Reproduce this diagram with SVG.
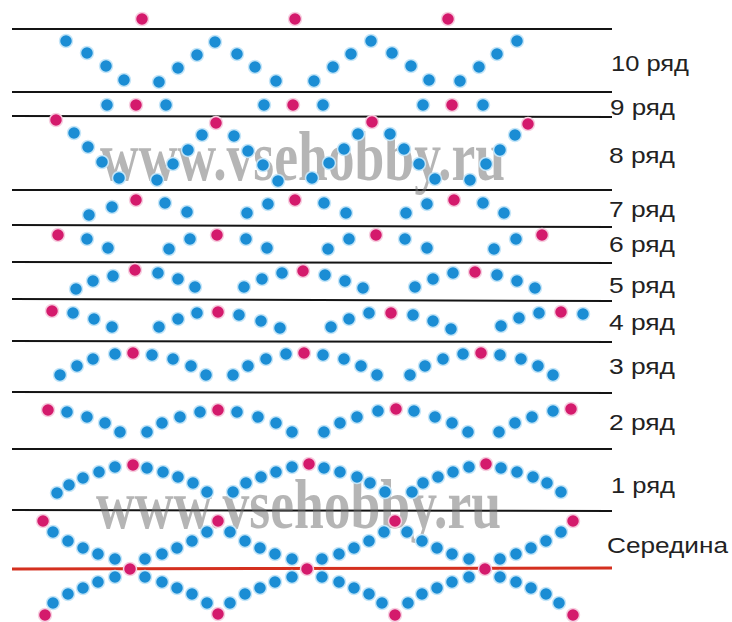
<svg xmlns="http://www.w3.org/2000/svg" width="732" height="622" viewBox="0 0 732 622">
<style>
.ln{stroke:#141414;stroke-width:2;fill:none}
.red{stroke:#d4301f;stroke-width:3;fill:none}
.b{fill:#1b8dd4;stroke:#c6e6f8;stroke-width:1.5}
.m{fill:#d41a6c;stroke:#f6cfe0;stroke-width:1.5}
.lab{font-family:"Liberation Sans",Arial,sans-serif;font-size:22px;fill:#222}
.wm{font-family:"Liberation Serif","Times New Roman",serif;font-size:40px;font-weight:bold;fill:#6e6e6e;opacity:0.5}
</style>
<rect width="732" height="622" fill="#fff"/>
<g id="lines">
<line class="ln" x1="12" y1="29" x2="612" y2="29"/>
<line class="ln" x1="12" y1="92" x2="612" y2="92"/>
<line class="ln" x1="12" y1="116" x2="612" y2="117"/>
<line class="ln" x1="12" y1="190" x2="612" y2="190"/>
<line class="ln" x1="12" y1="225" x2="612" y2="227"/>
<line class="ln" x1="12" y1="262" x2="612" y2="263"/>
<line class="ln" x1="12" y1="299" x2="612" y2="301"/>
<line class="ln" x1="12" y1="341" x2="612" y2="342"/>
<line class="ln" x1="12" y1="392" x2="612" y2="393"/>
<line class="ln" x1="12" y1="449" x2="612" y2="449"/>
<line class="ln" x1="12" y1="510" x2="612" y2="511"/>
<line class="red" x1="12" y1="569" x2="612" y2="568"/>
</g>
<g id="watermark">
<text class="wm" transform="translate(100,180) scale(1,1.75)" textLength="405" lengthAdjust="spacingAndGlyphs">www.vsehobby.ru</text>
<text class="wm" transform="translate(96,528) scale(1,1.75)" textLength="405" lengthAdjust="spacingAndGlyphs">www.vsehobby.ru</text>
</g>
<g id="row-top">
<circle class="m" cx="142" cy="19" r="6.5"/><circle class="m" cx="295" cy="19" r="6.5"/><circle class="m" cx="448" cy="19" r="6.5"/>
</g>
<g id="row10">
<circle class="b" cx="66" cy="41" r="6.5"/><circle class="b" cx="87" cy="53" r="6.5"/><circle class="b" cx="106" cy="66" r="6.5"/><circle class="b" cx="124" cy="80" r="6.5"/>
<circle class="b" cx="159" cy="82" r="6.5"/><circle class="b" cx="178" cy="68" r="6.5"/><circle class="b" cx="197" cy="55" r="6.5"/><circle class="b" cx="215" cy="42" r="6.5"/>
<circle class="b" cx="237" cy="54" r="6.5"/><circle class="b" cx="255" cy="67" r="6.5"/><circle class="b" cx="276" cy="81" r="6.5"/>
<circle class="b" cx="314" cy="81" r="6.5"/><circle class="b" cx="333" cy="67" r="6.5"/><circle class="b" cx="351" cy="54" r="6.5"/><circle class="b" cx="371" cy="41" r="6.5"/>
<circle class="b" cx="392" cy="53" r="6.5"/><circle class="b" cx="411" cy="66" r="6.5"/><circle class="b" cx="429" cy="80" r="6.5"/>
<circle class="b" cx="460" cy="81" r="6.5"/><circle class="b" cx="479" cy="67" r="6.5"/><circle class="b" cx="497" cy="54" r="6.5"/><circle class="b" cx="517" cy="41" r="6.5"/>
</g>
<g id="row9">
<circle class="b" cx="107" cy="105" r="6.5"/><circle class="m" cx="136" cy="105" r="6.5"/><circle class="b" cx="166" cy="105" r="6.5"/>
<circle class="b" cx="264" cy="105" r="6.5"/><circle class="m" cx="293" cy="105" r="6.5"/><circle class="b" cx="323" cy="105" r="6.5"/>
<circle class="b" cx="423" cy="105" r="6.5"/><circle class="m" cx="452" cy="105" r="6.5"/><circle class="b" cx="483" cy="105" r="6.5"/>
</g>
<g id="row8">
<circle class="m" cx="56" cy="120" r="6.5"/><circle class="b" cx="74" cy="133" r="6.5"/><circle class="b" cx="88" cy="147" r="6.5"/><circle class="b" cx="102" cy="162" r="6.5"/><circle class="b" cx="119" cy="178" r="6.5"/>
<circle class="b" cx="157" cy="180" r="6.5"/><circle class="b" cx="173" cy="164" r="6.5"/><circle class="b" cx="188" cy="150" r="6.5"/><circle class="b" cx="202" cy="135" r="6.5"/><circle class="m" cx="216" cy="123" r="6.5"/>
<circle class="b" cx="234" cy="136" r="6.5"/><circle class="b" cx="248" cy="151" r="6.5"/><circle class="b" cx="263" cy="165" r="6.5"/><circle class="b" cx="278" cy="181" r="6.5"/>
<circle class="b" cx="312" cy="178" r="6.5"/><circle class="b" cx="329" cy="163" r="6.5"/><circle class="b" cx="344" cy="149" r="6.5"/><circle class="b" cx="358" cy="134" r="6.5"/><circle class="m" cx="372" cy="122" r="6.5"/>
<circle class="b" cx="390" cy="134" r="6.5"/><circle class="b" cx="404" cy="149" r="6.5"/><circle class="b" cx="419" cy="164" r="6.5"/><circle class="b" cx="435" cy="179" r="6.5"/>
<circle class="b" cx="470" cy="180" r="6.5"/><circle class="b" cx="486" cy="164" r="6.5"/><circle class="b" cx="500" cy="150" r="6.5"/><circle class="b" cx="515" cy="135" r="6.5"/><circle class="m" cx="528" cy="124" r="6.5"/>
</g>
<g id="row7">
<circle class="b" cx="89" cy="215" r="6.5"/><circle class="b" cx="112" cy="207" r="6.5"/><circle class="m" cx="136" cy="200" r="6.5"/><circle class="b" cx="165" cy="203" r="6.5"/><circle class="b" cx="187" cy="212" r="6.5"/>
<circle class="b" cx="247" cy="213" r="6.5"/><circle class="b" cx="268" cy="204" r="6.5"/><circle class="m" cx="295" cy="200" r="6.5"/><circle class="b" cx="324" cy="203" r="6.5"/><circle class="b" cx="346" cy="213" r="6.5"/>
<circle class="b" cx="406" cy="213" r="6.5"/><circle class="b" cx="427" cy="204" r="6.5"/><circle class="m" cx="454" cy="200" r="6.5"/><circle class="b" cx="483" cy="203" r="6.5"/><circle class="b" cx="504" cy="213" r="6.5"/>
</g>
<g id="row6">
<circle class="m" cx="58" cy="235" r="6.5"/><circle class="b" cx="87" cy="239" r="6.5"/><circle class="b" cx="108" cy="248" r="6.5"/>
<circle class="b" cx="169" cy="249" r="6.5"/><circle class="b" cx="190" cy="239" r="6.5"/><circle class="m" cx="217" cy="235" r="6.5"/><circle class="b" cx="246" cy="239" r="6.5"/><circle class="b" cx="267" cy="248" r="6.5"/>
<circle class="b" cx="328" cy="249" r="6.5"/><circle class="b" cx="349" cy="239" r="6.5"/><circle class="m" cx="376" cy="235" r="6.5"/><circle class="b" cx="405" cy="239" r="6.5"/><circle class="b" cx="427" cy="248" r="6.5"/>
<circle class="b" cx="494" cy="249" r="6.5"/><circle class="b" cx="516" cy="239" r="6.5"/><circle class="m" cx="542" cy="235" r="6.5"/>
</g>
<g id="row5">
<circle class="b" cx="76" cy="289" r="6.5"/><circle class="b" cx="93" cy="281" r="6.5"/><circle class="b" cx="113" cy="276" r="6.5"/><circle class="m" cx="135" cy="270" r="6.5"/><circle class="b" cx="158" cy="273" r="6.5"/><circle class="b" cx="178" cy="279" r="6.5"/><circle class="b" cx="195" cy="287" r="6.5"/>
<circle class="b" cx="244" cy="287" r="6.5"/><circle class="b" cx="262" cy="279" r="6.5"/><circle class="b" cx="282" cy="273" r="6.5"/><circle class="m" cx="303" cy="271" r="6.5"/><circle class="b" cx="325" cy="275" r="6.5"/><circle class="b" cx="345" cy="281" r="6.5"/><circle class="b" cx="363" cy="288" r="6.5"/>
<circle class="b" cx="415" cy="287" r="6.5"/><circle class="b" cx="433" cy="279" r="6.5"/><circle class="b" cx="453" cy="273" r="6.5"/><circle class="m" cx="475" cy="272" r="6.5"/><circle class="b" cx="497" cy="275" r="6.5"/><circle class="b" cx="517" cy="281" r="6.5"/><circle class="b" cx="535" cy="288" r="6.5"/>
</g>
<g id="row4">
<circle class="m" cx="52" cy="311" r="6.5"/><circle class="b" cx="73" cy="313" r="6.5"/><circle class="b" cx="94" cy="319" r="6.5"/><circle class="b" cx="112" cy="327" r="6.5"/>
<circle class="b" cx="159" cy="327" r="6.5"/><circle class="b" cx="178" cy="319" r="6.5"/><circle class="b" cx="197" cy="313" r="6.5"/><circle class="m" cx="218" cy="312" r="6.5"/><circle class="b" cx="239" cy="315" r="6.5"/><circle class="b" cx="261" cy="321" r="6.5"/><circle class="b" cx="280" cy="328" r="6.5"/>
<circle class="b" cx="331" cy="327" r="6.5"/><circle class="b" cx="349" cy="319" r="6.5"/><circle class="b" cx="369" cy="313" r="6.5"/><circle class="m" cx="391" cy="313" r="6.5"/><circle class="b" cx="413" cy="315" r="6.5"/><circle class="b" cx="433" cy="321" r="6.5"/><circle class="b" cx="451" cy="329" r="6.5"/>
<circle class="b" cx="501" cy="326" r="6.5"/><circle class="b" cx="519" cy="318" r="6.5"/><circle class="b" cx="539" cy="313" r="6.5"/><circle class="m" cx="561" cy="312" r="6.5"/><circle class="b" cx="583" cy="314" r="6.5"/>
</g>
<g id="row3">
<circle class="b" cx="60" cy="375" r="6.5"/><circle class="b" cx="77" cy="366" r="6.5"/><circle class="b" cx="93" cy="359" r="6.5"/><circle class="b" cx="115" cy="354" r="6.5"/><circle class="m" cx="133" cy="353" r="6.5"/><circle class="b" cx="152" cy="355" r="6.5"/><circle class="b" cx="173" cy="359" r="6.5"/><circle class="b" cx="191" cy="366" r="6.5"/><circle class="b" cx="206" cy="375" r="6.5"/>
<circle class="b" cx="233" cy="375" r="6.5"/><circle class="b" cx="248" cy="366" r="6.5"/><circle class="b" cx="266" cy="359" r="6.5"/><circle class="b" cx="286" cy="354" r="6.5"/><circle class="m" cx="304" cy="353" r="6.5"/><circle class="b" cx="323" cy="355" r="6.5"/><circle class="b" cx="344" cy="359" r="6.5"/><circle class="b" cx="361" cy="366" r="6.5"/><circle class="b" cx="377" cy="375" r="6.5"/>
<circle class="b" cx="410" cy="375" r="6.5"/><circle class="b" cx="425" cy="366" r="6.5"/><circle class="b" cx="443" cy="359" r="6.5"/><circle class="b" cx="463" cy="354" r="6.5"/><circle class="m" cx="481" cy="353" r="6.5"/><circle class="b" cx="500" cy="355" r="6.5"/><circle class="b" cx="521" cy="359" r="6.5"/><circle class="b" cx="538" cy="366" r="6.5"/><circle class="b" cx="553" cy="375" r="6.5"/>
</g>
<g id="row2">
<circle class="m" cx="48" cy="410" r="6.5"/><circle class="b" cx="67" cy="412" r="6.5"/><circle class="b" cx="87" cy="417" r="6.5"/><circle class="b" cx="105" cy="423" r="6.5"/><circle class="b" cx="120" cy="432" r="6.5"/>
<circle class="b" cx="147" cy="432" r="6.5"/><circle class="b" cx="162" cy="423" r="6.5"/><circle class="b" cx="180" cy="417" r="6.5"/><circle class="b" cx="200" cy="412" r="6.5"/><circle class="m" cx="218" cy="410" r="6.5"/><circle class="b" cx="237" cy="412" r="6.5"/><circle class="b" cx="258" cy="417" r="6.5"/><circle class="b" cx="276" cy="423" r="6.5"/><circle class="b" cx="292" cy="432" r="6.5"/>
<circle class="b" cx="324" cy="432" r="6.5"/><circle class="b" cx="340" cy="423" r="6.5"/><circle class="b" cx="357" cy="417" r="6.5"/><circle class="b" cx="378" cy="411" r="6.5"/><circle class="m" cx="396" cy="409" r="6.5"/><circle class="b" cx="414" cy="411" r="6.5"/><circle class="b" cx="435" cy="417" r="6.5"/><circle class="b" cx="452" cy="423" r="6.5"/><circle class="b" cx="468" cy="432" r="6.5"/>
<circle class="b" cx="499" cy="432" r="6.5"/><circle class="b" cx="515" cy="423" r="6.5"/><circle class="b" cx="532" cy="417" r="6.5"/><circle class="b" cx="553" cy="411" r="6.5"/><circle class="m" cx="571" cy="409" r="6.5"/>
</g>
<g id="row1">
<circle class="b" cx="57" cy="493" r="6.5"/><circle class="b" cx="69" cy="485" r="6.5"/><circle class="b" cx="83" cy="478" r="6.5"/><circle class="b" cx="99" cy="472" r="6.5"/><circle class="b" cx="115" cy="467" r="6.5"/><circle class="m" cx="133" cy="465" r="6.5"/><circle class="b" cx="147" cy="468" r="6.5"/><circle class="b" cx="163" cy="472" r="6.5"/><circle class="b" cx="178" cy="477" r="6.5"/><circle class="b" cx="193" cy="483" r="6.5"/><circle class="b" cx="207" cy="492" r="6.5"/>
<circle class="b" cx="233" cy="492" r="6.5"/><circle class="b" cx="246" cy="483" r="6.5"/><circle class="b" cx="261" cy="477" r="6.5"/><circle class="b" cx="276" cy="472" r="6.5"/><circle class="b" cx="292" cy="467" r="6.5"/><circle class="m" cx="309" cy="464" r="6.5"/><circle class="b" cx="324" cy="468" r="6.5"/><circle class="b" cx="340" cy="472" r="6.5"/><circle class="b" cx="357" cy="477" r="6.5"/><circle class="b" cx="370" cy="483" r="6.5"/><circle class="b" cx="385" cy="492" r="6.5"/>
<circle class="b" cx="412" cy="492" r="6.5"/><circle class="b" cx="423" cy="483" r="6.5"/><circle class="b" cx="438" cy="477" r="6.5"/><circle class="b" cx="453" cy="472" r="6.5"/><circle class="b" cx="469" cy="467" r="6.5"/><circle class="m" cx="486" cy="464" r="6.5"/><circle class="b" cx="501" cy="468" r="6.5"/><circle class="b" cx="517" cy="472" r="6.5"/><circle class="b" cx="533" cy="477" r="6.5"/><circle class="b" cx="547" cy="483" r="6.5"/><circle class="b" cx="561" cy="492" r="6.5"/>
</g>
<g id="middle">
<circle class="m" cx="43" cy="521" r="6.5"/><circle class="m" cx="218" cy="521" r="6.5"/><circle class="m" cx="395" cy="521" r="6.5"/><circle class="m" cx="573" cy="521" r="6.5"/>
<circle class="b" cx="53" cy="532" r="6.5"/><circle class="b" cx="68" cy="541" r="6.5"/><circle class="b" cx="83" cy="548" r="6.5"/><circle class="b" cx="98" cy="554" r="6.5"/><circle class="b" cx="115" cy="559" r="6.5"/>
<circle class="b" cx="145" cy="559" r="6.5"/><circle class="b" cx="162" cy="554" r="6.5"/><circle class="b" cx="177" cy="548" r="6.5"/><circle class="b" cx="192" cy="541" r="6.5"/><circle class="b" cx="207" cy="532" r="6.5"/>
<circle class="b" cx="230" cy="532" r="6.5"/><circle class="b" cx="245" cy="541" r="6.5"/><circle class="b" cx="260" cy="548" r="6.5"/><circle class="b" cx="275" cy="554" r="6.5"/><circle class="b" cx="292" cy="559" r="6.5"/>
<circle class="b" cx="322" cy="559" r="6.5"/><circle class="b" cx="339" cy="554" r="6.5"/><circle class="b" cx="354" cy="548" r="6.5"/><circle class="b" cx="369" cy="541" r="6.5"/><circle class="b" cx="384" cy="532" r="6.5"/>
<circle class="b" cx="407" cy="532" r="6.5"/><circle class="b" cx="422" cy="541" r="6.5"/><circle class="b" cx="437" cy="548" r="6.5"/><circle class="b" cx="452" cy="554" r="6.5"/><circle class="b" cx="469" cy="559" r="6.5"/>
<circle class="b" cx="500" cy="559" r="6.5"/><circle class="b" cx="516" cy="554" r="6.5"/><circle class="b" cx="531" cy="548" r="6.5"/><circle class="b" cx="546" cy="541" r="6.5"/><circle class="b" cx="561" cy="532" r="6.5"/>
<circle class="m" cx="130" cy="569" r="6.5"/><circle class="m" cx="307" cy="569" r="6.5"/><circle class="m" cx="485" cy="569" r="6.5"/>
</g>
<g id="below">
<circle class="b" cx="53" cy="603" r="6.5"/><circle class="b" cx="68" cy="594" r="6.5"/><circle class="b" cx="83" cy="588" r="6.5"/><circle class="b" cx="98" cy="582" r="6.5"/><circle class="b" cx="115" cy="577" r="6.5"/>
<circle class="b" cx="145" cy="577" r="6.5"/><circle class="b" cx="162" cy="582" r="6.5"/><circle class="b" cx="177" cy="588" r="6.5"/><circle class="b" cx="192" cy="594" r="6.5"/><circle class="b" cx="207" cy="603" r="6.5"/>
<circle class="b" cx="230" cy="603" r="6.5"/><circle class="b" cx="245" cy="594" r="6.5"/><circle class="b" cx="260" cy="588" r="6.5"/><circle class="b" cx="275" cy="582" r="6.5"/><circle class="b" cx="292" cy="577" r="6.5"/>
<circle class="b" cx="322" cy="577" r="6.5"/><circle class="b" cx="339" cy="582" r="6.5"/><circle class="b" cx="354" cy="588" r="6.5"/><circle class="b" cx="369" cy="594" r="6.5"/><circle class="b" cx="382" cy="603" r="6.5"/>
<circle class="b" cx="408" cy="603" r="6.5"/><circle class="b" cx="422" cy="594" r="6.5"/><circle class="b" cx="437" cy="588" r="6.5"/><circle class="b" cx="452" cy="582" r="6.5"/><circle class="b" cx="469" cy="577" r="6.5"/>
<circle class="b" cx="500" cy="577" r="6.5"/><circle class="b" cx="516" cy="582" r="6.5"/><circle class="b" cx="531" cy="588" r="6.5"/><circle class="b" cx="546" cy="594" r="6.5"/><circle class="b" cx="559" cy="603" r="6.5"/>
<circle class="m" cx="45" cy="615" r="6.5"/><circle class="m" cx="218" cy="614" r="6.5"/><circle class="m" cx="395" cy="615" r="6.5"/><circle class="m" cx="573" cy="615" r="6.5"/>
</g>
<g id="labels">
<text class="lab" x="611" y="71" textLength="78" lengthAdjust="spacingAndGlyphs">10 ряд</text>
<text class="lab" x="610" y="115" textLength="65" lengthAdjust="spacingAndGlyphs">9 ряд</text>
<text class="lab" x="609" y="163" textLength="66" lengthAdjust="spacingAndGlyphs">8 ряд</text>
<text class="lab" x="609" y="217" textLength="66" lengthAdjust="spacingAndGlyphs">7 ряд</text>
<text class="lab" x="609" y="252" textLength="66" lengthAdjust="spacingAndGlyphs">6 ряд</text>
<text class="lab" x="609" y="293" textLength="66" lengthAdjust="spacingAndGlyphs">5 ряд</text>
<text class="lab" x="609" y="330" textLength="66" lengthAdjust="spacingAndGlyphs">4 ряд</text>
<text class="lab" x="609" y="374" textLength="66" lengthAdjust="spacingAndGlyphs">3 ряд</text>
<text class="lab" x="609" y="430" textLength="66" lengthAdjust="spacingAndGlyphs">2 ряд</text>
<text class="lab" x="611" y="493" textLength="64" lengthAdjust="spacingAndGlyphs">1 ряд</text>
<text class="lab" x="607" y="553" textLength="121" lengthAdjust="spacingAndGlyphs">Середина</text>
</g>
</svg>
